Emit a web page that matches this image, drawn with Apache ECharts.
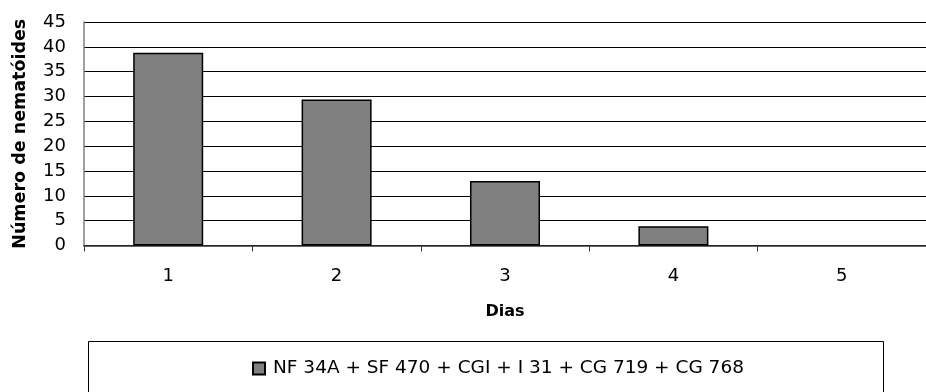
<!DOCTYPE html>
<html>
<head>
<meta charset="utf-8">
<style>html,body{margin:0;padding:0;background:#fff;}#c{width:926px;height:392px;}</style>
<script src="https://cdn.jsdelivr.net/npm/echarts@6/dist/echarts.min.js"></script>
</head>
<body>
<div id="c"></div>
<script>
const categories = ['1', '2', '3', '4', '5'];
const seriesName = 'NF 34A + SF 470 + CGI + I 31 + CG 719 + CG 768';
const values = [38.8, 29.4, 13.0, 3.9, 0];
const yTicks = { min: 0, max: 45, interval: 5 };
const xTitle = 'Dias';
const yTitle = 'Número de nematóides';

const FONT = '"DejaVu Sans", "Liberation Sans", Arial, sans-serif';
const chart = echarts.init(document.getElementById('c'), null, { renderer: 'canvas' });
chart.setOption({
  animation: false,
  backgroundColor: '#fff',
  grid: { left: 84, top: 22, width: 853, height: 223.5, containLabel: false },
  xAxis: {
    type: 'category',
    data: categories,
    name: xTitle,
    nameLocation: 'middle',
    nameGap: 58,
    nameTextStyle: { fontFamily: FONT, fontSize: 16, fontWeight: 'bold', color: '#000' },
    axisLine: { lineStyle: { color: '#333', width: 1.5 } },
    axisTick: { show: true, length: 6, lineStyle: { color: '#333' } },
    axisLabel: { fontFamily: FONT, fontSize: 18, color: '#000', margin: 22 }
  },
  yAxis: {
    type: 'value',
    min: yTicks.min, max: yTicks.max, interval: yTicks.interval,
    name: yTitle,
    nameLocation: 'middle',
    nameGap: 55,
    nameTextStyle: { fontFamily: FONT, fontSize: 17.5, fontWeight: 'bold', color: '#000' },
    axisLine: { show: true, lineStyle: { color: '#808080', width: 1.5 } },
    axisTick: { show: false },
    axisLabel: { fontFamily: FONT, fontSize: 18, color: '#000', margin: 18 },
    splitLine: { show: true, lineStyle: { color: '#000', width: 1 } }
  },
  legend: {
    left: 252, top: 359, padding: 0,
    itemWidth: 12, itemHeight: 12, itemGap: 10,
    icon: 'rect',
    textStyle: { fontFamily: FONT, fontSize: 18.5, color: '#000', padding: [0, 0, 0, 3] },
    data: [seriesName]
  },
  graphic: [{
    type: 'rect',
    shape: { x: 88.5, y: 341.5, width: 795, height: 80 },
    style: { fill: 'none', stroke: '#000', lineWidth: 1 },
    z: 0
  }],
  series: [{
    type: 'bar',
    name: seriesName,
    data: values.map(v => v === 0 ? { value: v, itemStyle: { borderWidth: 0 } } : v),
    barWidth: 70,
    itemStyle: { color: '#808080', borderColor: '#000', borderWidth: 1.5 }
  }]
});
</script>
</body>
</html>
